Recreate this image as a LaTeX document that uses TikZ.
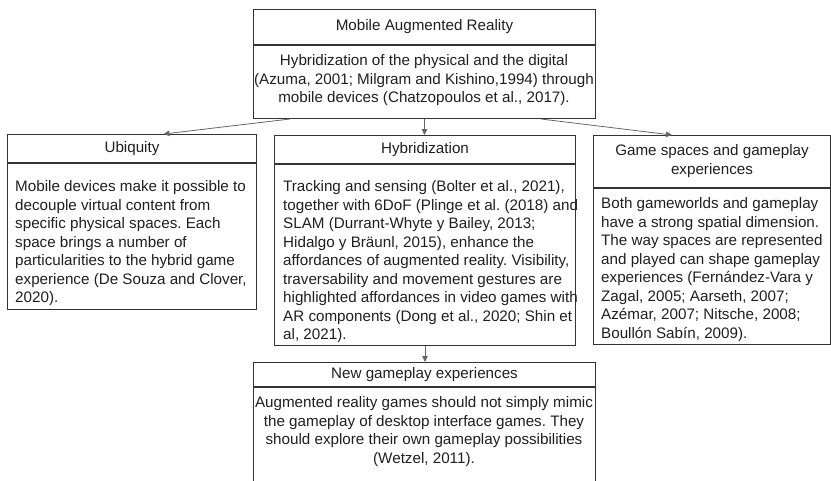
\documentclass[tikz,border=0pt]{standalone}
\usepackage{fontspec}
\setmainfont{Liberation Sans}
\usetikzlibrary{arrows.meta,calc}
\definecolor{boxc}{HTML}{333333}
\definecolor{arrc}{HTML}{666666}
\definecolor{txtc}{HTML}{1F1F1F}
\newcommand\bfnt{\fontsize{15.2}{18.5}\selectfont\frenchspacing}
\tikzset{
  hdr/.style={draw=boxc, line width=1pt, inner sep=0pt, anchor=north west, align=center, font=\bfnt, text=txtc},
  bodybox/.style={draw=boxc, line width=1pt, inner sep=0pt, anchor=north west},
  bodytxt/.style={inner sep=0pt, font=\bfnt, text=txtc},
  conn/.style={draw=arrc, line width=0.8pt, -{Triangle[length=6pt,width=5.5pt]}}
}
\begin{document}
\begin{tikzpicture}[x=1pt,y=-1pt]
\useasboundingbox (0,0) rectangle (831,480);
\clip (0,0) rectangle (831,480);
% top box
\node[hdr, minimum width=342, minimum height=35] (topH) at (253,9) {Mobile Augmented Reality};
\node[bodybox, minimum width=342, minimum height=73] (topB) at (topH.south west) {};
\node[bodytxt, align=center, anchor=north] (topT) at (424,52.5) {\strut Hybridization of the physical and the digital\\(Azuma, 2001; Milgram and Kishino,1994) through\\mobile devices (Chatzopoulos et al., 2017).};
% ubiquity
\node[hdr, minimum width=249, minimum height=28] (ubH) at (7,134) {Ubiquity};
\node[bodybox, minimum width=249, minimum height=146] (ubB) at (ubH.south west) {};
\node[bodytxt, align=left, anchor=north west] (ubT) at (15,178.5) {\strut Mobile devices make it possible to\\decouple virtual content from\\specific physical spaces. Each\\space brings a number of\\particularities to the hybrid game\\experience (De Souza and Clover,\\2020).};
% hybridization
\node[hdr, minimum width=301, minimum height=28] (hyH) at (274,135) {Hybridization};
\node[bodybox, minimum width=301, minimum height=181] (hyB) at (hyH.south west) {};
\node[bodytxt, align=left, anchor=north west] (hyT) at (283,178.5) {\strut Tracking and sensing (Bolter et al., 2021),\\together with 6DoF (Plinge et al. (2018) and\\SLAM (Durrant-Whyte y Bailey, 2013;\\Hidalgo y Bräunl, 2015), enhance the\\affordances of augmented reality. Visibility,\\traversability and movement gestures are\\highlighted affordances in video games with\\AR components (Dong et al., 2020; Shin et\\al, 2021).};
% game spaces
\node[hdr, minimum width=237, minimum height=52, text depth=4pt] (gsH) at (593,135) {Game spaces and gameplay\\experiences};
\node[bodybox, minimum width=237, minimum height=156] (gsB) at (gsH.south west) {};
\node[bodytxt, align=left, anchor=north west] (gsT) at (601,195.5) {\strut Both gameworlds and gameplay\\have a strong spatial dimension.\\The way spaces are represented\\and played can shape gameplay\\experiences (Fernández-Vara y\\Zagal, 2005; Aarseth, 2007;\\Azémar, 2007; Nitsche, 2008;\\Boullón Sabín, 2009).};
% new gameplay
\node[hdr, minimum width=342, minimum height=24] (ngH) at (253,362) {New gameplay experiences};
\node[bodybox, minimum width=342, minimum height=130] (ngB) at (ngH.south west) {};
\node[bodytxt, align=center, anchor=north] (ngT) at (424,394.5) {\strut Augmented reality games should not simply mimic\\the gameplay of desktop interface games. They\\should explore their own gameplay possibilities\\(Wetzel, 2011).};
% connectors
\draw[conn] ($(topB.south west)+(37,0)$) -- ($(ubH.north)+(31.5,0)$);
\draw[conn] (topB.south) -- (topB.south |- hyH.north);
\draw[conn] ($(topB.south east)+(-55,0)$) -- ($(gsH.north)+(-40,0)$);
\draw[conn] (hyB.south) -- (hyB.south |- ngH.north);
\end{tikzpicture}
\end{document}
